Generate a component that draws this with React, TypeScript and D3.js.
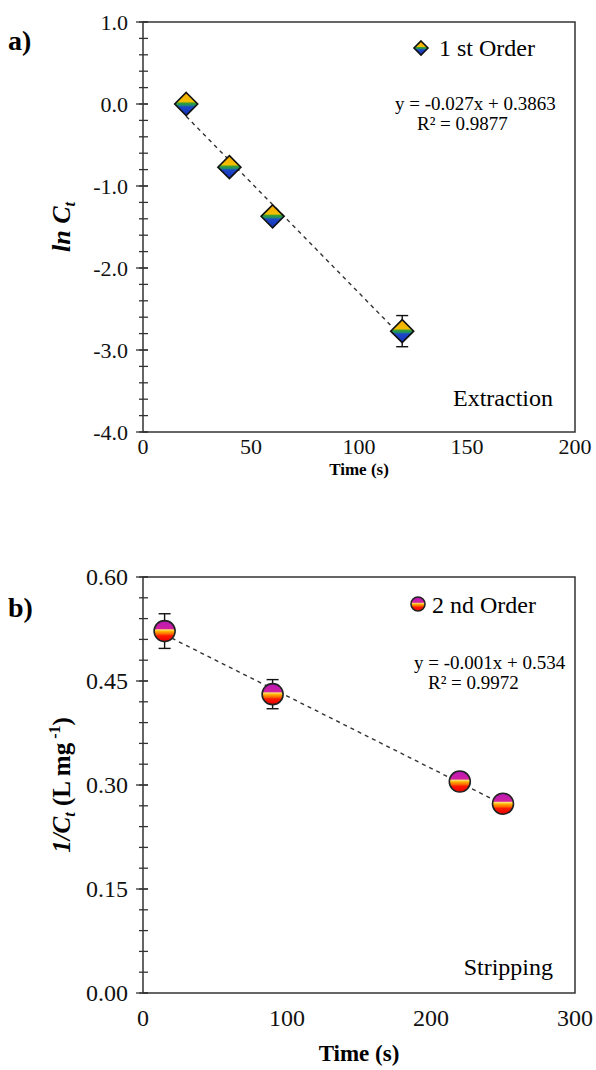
import React from "react";
import * as d3 from "d3";

// Panel a: first order (Extraction)
const timeA = [20, 40, 60, 120];
const lnCt = [0.0, -0.77, -1.37, -2.77];
const errA = [0.03, 0.06, 0.05, 0.19];
const yTicksA = [1.0, 0.0, -1.0, -2.0, -3.0, -4.0];
const xTicksA = [0, 50, 100, 150, 200];

// Panel b: second order (Stripping)
const timeB = [15, 90, 220, 250];
const invCt = [0.522, 0.431, 0.305, 0.273];
const errB = [0.025, 0.021, 0.012, 0.006];
const yTicksB = [0.0, 0.15, 0.3, 0.45, 0.6];
const xTicksB = [0, 100, 200, 300];

const FONT = "'Liberation Serif', 'Times New Roman', serif";

function fit(xs: number[], ys: number[]) {
  const mx = d3.mean(xs)!;
  const my = d3.mean(ys)!;
  let sxy = 0, sxx = 0;
  xs.forEach((x, i) => { sxy += (x - mx) * (ys[i] - my); sxx += (x - mx) ** 2; });
  const m = sxy / sxx;
  return { m, b: my - m * mx };
}

type PanelProps = {
  left: number; right: number; top: number; bottom: number;
  xDomain: [number, number]; yDomain: [number, number];
  xTicks: number[]; yTicks: number[]; minorStep: number; yFmt: (v: number) => string;
  xs: number[]; ys: number[]; errs: number[];
  marker: "diamond" | "circle";
  tickFont: number; xTickDy: number;
};

function Marker({ kind, x, y, s }: { kind: string; x: number; y: number; s: number }) {
  if (kind === "diamond") {
    const h = s / 2;
    return (
      <path d={`M${x},${y - h}L${x + h},${y}L${x},${y + h}L${x - h},${y}Z`} fill="url(#gradDiamond)" stroke="#111" strokeWidth={1.6} />
    );
  }
  return <circle cx={x} cy={y} r={s / 2} fill="url(#gradCircle)" stroke="#222" strokeWidth={1.6} />;
}

function Panel(p: PanelProps) {
  const x = d3.scaleLinear().domain(p.xDomain).range([p.left, p.right]);
  const y = d3.scaleLinear().domain(p.yDomain).range([p.bottom, p.top]);
  const { m, b } = fit(p.xs, p.ys);
  const x0 = d3.min(p.xs)!, x1 = d3.max(p.xs)!;
  const minors: number[] = [];
  const n = Math.round((p.yDomain[1] - p.yDomain[0]) / p.minorStep);
  for (let i = 0; i <= n; i++) minors.push(p.yDomain[0] + i * p.minorStep);
  return (
    <g>
      <rect x={p.left} y={p.top} width={p.right - p.left} height={p.bottom - p.top} fill="none" stroke="#333" strokeWidth={1.5} />
      {minors.map((v, i) => (
        <line key={"mn" + i} x1={p.left - 4} x2={p.left + 5} y1={y(v)} y2={y(v)} stroke="#333" strokeWidth={1.3} />
      ))}
      {p.yTicks.map((v, i) => (
        <g key={"yt" + i}>
          <line x1={p.left - 7} x2={p.left + 5} y1={y(v)} y2={y(v)} stroke="#333" strokeWidth={1.3} />
          <text x={p.left - 15} y={y(v) + 7.5} textAnchor="end" fontSize={p.tickFont} fontFamily={FONT} fill="#111">{p.yFmt(v)}</text>
        </g>
      ))}
      {p.xTicks.map((v, i) => (
        <text key={"xt" + i} x={x(v)} y={p.bottom + p.xTickDy} textAnchor="middle" fontSize={p.tickFont} fontFamily={FONT} fill="#111">{v}</text>
      ))}
      <line x1={x(x0)} y1={y(m * x0 + b)} x2={x(x1)} y2={y(m * x1 + b)} stroke="#333" strokeWidth={1.4} strokeDasharray="4,4" />
      {p.xs.map((xv, i) => (
        <g key={"eb" + i}>
          <line x1={x(xv)} x2={x(xv)} y1={y(p.ys[i] - p.errs[i])} y2={y(p.ys[i] + p.errs[i])} stroke="#111" strokeWidth={1.4} />
          <line x1={x(xv) - 6} x2={x(xv) + 6} y1={y(p.ys[i] + p.errs[i])} y2={y(p.ys[i] + p.errs[i])} stroke="#111" strokeWidth={1.4} />
          <line x1={x(xv) - 6} x2={x(xv) + 6} y1={y(p.ys[i] - p.errs[i])} y2={y(p.ys[i] - p.errs[i])} stroke="#111" strokeWidth={1.4} />
        </g>
      ))}
      {p.xs.map((xv, i) => (
        <Marker key={"mk" + i} kind={p.marker} x={x(xv)} y={y(p.ys[i])} s={p.marker === "diamond" ? 23 : 21} />
      ))}
    </g>
  );
}

const fmt1 = (v: number) => v.toFixed(1);
const fmt2 = (v: number) => v.toFixed(2);

export default function App() {
  return (
    <svg width={596} height={1070} style={{ position: "absolute", left: 0, top: 0, background: "#fff" }}>
      <defs>
        <linearGradient id="gradDiamond" x1="0" y1="0" x2="0" y2="1">
          <stop offset="0" stopColor="#f7a800" />
          <stop offset="0.40" stopColor="#f2c000" />
          <stop offset="0.46" stopColor="#3aa030" />
          <stop offset="0.56" stopColor="#1c8a70" />
          <stop offset="0.62" stopColor="#1d48c8" />
          <stop offset="1" stopColor="#1530b8" />
        </linearGradient>
        <linearGradient id="gradCircle" x1="0" y1="0" x2="0" y2="1">
          <stop offset="0" stopColor="#b818b8" />
          <stop offset="0.38" stopColor="#d020a0" />
          <stop offset="0.44" stopColor="#ffe070" />
          <stop offset="0.52" stopColor="#ffb000" />
          <stop offset="0.65" stopColor="#ff6000" />
          <stop offset="0.72" stopColor="#ff1a00" />
          <stop offset="1" stopColor="#e80000" />
        </linearGradient>
      </defs>

      {/* Panel a */}
      <text x={8} y={50} fontSize={28} fontWeight="bold" fontFamily={FONT}>a)</text>
      <Panel left={143} right={575} top={22} bottom={432} xDomain={[0, 200]} yDomain={[-4, 1]}
        xTicks={xTicksA} yTicks={yTicksA} minorStep={0.2} yFmt={fmt1}
        xs={timeA} ys={lnCt} errs={errA} marker="diamond" tickFont={22} xTickDy={22} />
      <Marker kind="diamond" x={421} y={48} s={14} />
      <text x={439} y={56} fontSize={24} fontFamily={FONT}>1 st Order</text>
      <text x={395} y={110} fontSize={19} fontFamily={FONT}>y = -0.027x + 0.3863</text>
      <text x={417} y={130} fontSize={19} fontFamily={FONT}>R² = 0.9877</text>
      <text x={553} y={406} textAnchor="end" fontSize={24} fontFamily={FONT}>Extraction</text>
      <text x={359} y={475} textAnchor="middle" fontSize={17} fontWeight="bold" fontFamily={FONT}>Time (s)</text>
      <text transform="translate(70,227) rotate(-90)" textAnchor="middle" fontSize={26} fontWeight="bold" fontStyle="italic" fontFamily={FONT}>
        ln C<tspan fontSize={16} dy={5}>t</tspan>
      </text>

      {/* Panel b */}
      <text x={8} y={617} fontSize={28} fontWeight="bold" fontFamily={FONT}>b)</text>
      <Panel left={143} right={575} top={577} bottom={993} xDomain={[0, 300]} yDomain={[0, 0.6]}
        xTicks={xTicksB} yTicks={yTicksB} minorStep={0.03} yFmt={fmt2}
        xs={timeB} ys={invCt} errs={errB} marker="circle" tickFont={24} xTickDy={33} />
      <Marker kind="circle" x={418} y={604} s={14} />
      <text x={432} y={613} fontSize={24} fontFamily={FONT}>2 nd Order</text>
      <text x={414} y={669} fontSize={19} fontFamily={FONT}>y = -0.001x + 0.534</text>
      <text x={428} y={689} fontSize={19} fontFamily={FONT}>R² = 0.9972</text>
      <text x={553} y={975} textAnchor="end" fontSize={24} fontFamily={FONT}>Stripping</text>
      <text x={359} y={1061} textAnchor="middle" fontSize={23} fontWeight="bold" fontFamily={FONT}>Time (s)</text>
      <text transform="translate(70,785) rotate(-90)" textAnchor="middle" fontSize={25} fontWeight="bold" fontFamily={FONT}>
        <tspan fontStyle="italic">1/C</tspan><tspan fontStyle="italic" fontSize={16} dy={5}>t</tspan>
        <tspan dy={-5}> (L mg</tspan><tspan fontSize={16} dy={-10}> -1</tspan><tspan dy={10}>)</tspan>
      </text>
    </svg>
  );
}
